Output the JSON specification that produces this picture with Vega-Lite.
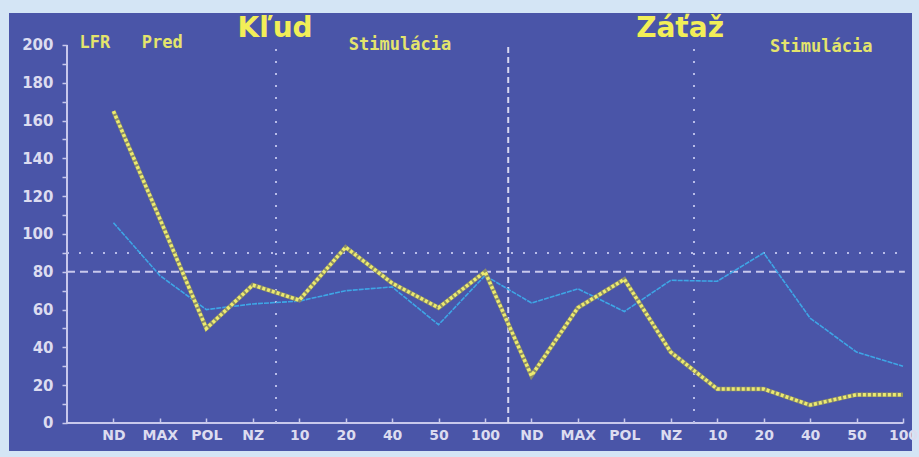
{
  "$schema": "https://vega.github.io/schema/vega-lite/v6.json",
  "width": 903,
  "height": 438,
  "autosize": {"type": "none"},
  "padding": {"left": 9, "top": 13, "right": 7, "bottom": 6},
  "background": "#d4e5f5",
  "config": {
    "view": {"fill": "#4a55a8", "stroke": null},
    "axis": {
      "labelFont": "DejaVu Sans",
      "labelFontWeight": "bold",
      "labelFontSize": 14,
      "labelColor": "#dcdcf0",
      "tickColor": "#c8c8ec",
      "tickWidth": 1.5,
      "domain": false,
      "grid": false,
      "title": null,
      "labelFlush": false,
      "labelBound": false
    }
  },
  "datasets": {
    "series": [
      {"x": 1, "y": 106, "s": "b"}, {"x": 2, "y": 78, "s": "b"}, {"x": 3, "y": 60, "s": "b"},
      {"x": 4, "y": 63, "s": "b"}, {"x": 5, "y": 64.5, "s": "b"}, {"x": 6, "y": 70, "s": "b"},
      {"x": 7, "y": 72, "s": "b"}, {"x": 8, "y": 52, "s": "b"}, {"x": 9, "y": 78, "s": "b"},
      {"x": 10, "y": 63.5, "s": "b"}, {"x": 11, "y": 71, "s": "b"}, {"x": 12, "y": 59, "s": "b"},
      {"x": 13, "y": 75.5, "s": "b"}, {"x": 14, "y": 75, "s": "b"}, {"x": 15, "y": 90, "s": "b"},
      {"x": 16, "y": 55.5, "s": "b"}, {"x": 17, "y": 37.5, "s": "b"}, {"x": 18, "y": 30, "s": "b"},
      {"x": 1, "y": 165, "s": "y"}, {"x": 2, "y": 108, "s": "y"}, {"x": 3, "y": 50, "s": "y"},
      {"x": 4, "y": 73, "s": "y"}, {"x": 5, "y": 65, "s": "y"}, {"x": 6, "y": 93, "s": "y"},
      {"x": 7, "y": 74, "s": "y"}, {"x": 8, "y": 61, "s": "y"}, {"x": 9, "y": 80, "s": "y"},
      {"x": 10, "y": 25, "s": "y"}, {"x": 11, "y": 61, "s": "y"}, {"x": 12, "y": 76, "s": "y"},
      {"x": 13, "y": 37.5, "s": "y"}, {"x": 14, "y": 18, "s": "y"}, {"x": 15, "y": 18, "s": "y"},
      {"x": 16, "y": 9.5, "s": "y"}, {"x": 17, "y": 15, "s": "y"}, {"x": 18, "y": 15, "s": "y"}
    ]
  },
  "encoding": {
    "x": {
      "field": "x",
      "type": "quantitative",
      "scale": {"domain": [-1.2488, 18.1938], "nice": false, "zero": false},
      "axis": {
        "values": [1, 2, 3, 4, 5, 6, 7, 8, 9, 10, 11, 12, 13, 14, 15, 16, 17, 18],
        "labelExpr": "['','ND','MAX','POL','NZ','10','20','40','50','100','ND','MAX','POL','NZ','10','20','40','50','100'][datum.value]",
        "offset": -28,
        "tickSize": -5,
        "labelPadding": 10,
        "labelOverlap": false
      }
    },
    "y": {
      "field": "y",
      "type": "quantitative",
      "scale": {"domain": [-14.815, 216.93], "nice": false, "zero": false},
      "axis": {
        "values": [0, 10, 20, 30, 40, 50, 60, 70, 80, 90, 100, 110, 120, 130, 140, 150, 160, 170, 180, 190, 200],
        "labelExpr": "datum.value % 20 == 0 ? datum.label : ''",
        "labelFontSize": 15,
        "offset": -58,
        "tickSize": 5,
        "labelPadding": 9
      }
    }
  },
  "layer": [
    {
      "data": {"values": [{"x": 0, "y": 0, "y2": 200}]},
      "mark": {"type": "rule", "color": "#c8c8ec", "strokeWidth": 2},
      "encoding": {"y2": {"field": "y2"}}
    },
    {
      "data": {"values": [{"x": 0, "x2": 18, "y": 0}]},
      "mark": {"type": "rule", "color": "#c8c8ec", "strokeWidth": 2},
      "encoding": {"x2": {"field": "x2"}}
    },
    {
      "data": {"values": [{"x": 4.5, "y": 0, "y2": 200}, {"x": 13.5, "y": 0, "y2": 199}]},
      "mark": {"type": "rule", "color": "#b8bce8", "strokeWidth": 2, "strokeDash": [2, 10]},
      "encoding": {"y2": {"field": "y2"}}
    },
    {
      "data": {"values": [{"x": 9.5, "y": 0, "y2": 200}]},
      "mark": {"type": "rule", "color": "#d8d8f0", "strokeWidth": 2, "strokeDash": [6, 4]},
      "encoding": {"y2": {"field": "y2"}}
    },
    {
      "data": {"values": [{"x": 0, "x2": 18.04, "y": 80}]},
      "mark": {"type": "rule", "color": "#c8c8ec", "strokeWidth": 2, "strokeDash": [8, 5]},
      "encoding": {"x2": {"field": "x2"}}
    },
    {
      "data": {"values": [{"x": 0, "x2": 17.9, "y": 90}]},
      "mark": {"type": "rule", "color": "#b8bce8", "strokeWidth": 2, "strokeDash": [2, 10]},
      "encoding": {"x2": {"field": "x2"}}
    },
    {
      "data": {"name": "series"},
      "transform": [{"filter": "datum.s == 'b'"}],
      "mark": {"type": "line", "color": "#3ea6e6", "strokeWidth": 1.6, "strokeDash": [5, 1]},
      "encoding": {}
    },
    {
      "data": {"name": "series"},
      "transform": [{"filter": "datum.s == 'y'"}],
      "mark": {"type": "line", "color": "#8c8e68", "strokeWidth": 4.5},
      "encoding": {}
    },
    {
      "data": {"name": "series"},
      "transform": [{"filter": "datum.s == 'y'"}],
      "mark": {"type": "line", "color": "#ecea70", "strokeWidth": 3.5, "strokeDash": [3, 2]},
      "encoding": {}
    },
    {
      "data": {"values": [
        {"x": 0.6, "y": 200.8, "t": "LFR"},
        {"x": 2.05, "y": 200.8, "t": "Pred"},
        {"x": 7.17, "y": 200, "t": "Stimulácia"},
        {"x": 16.24, "y": 199, "t": "Stimulácia"}
      ]},
      "mark": {"type": "text", "color": "#e4e46c", "font": "DejaVu Sans Mono", "fontWeight": "bold", "fontSize": 17, "baseline": "middle", "align": "center"},
      "encoding": {"text": {"field": "t"}}
    },
    {
      "data": {"values": [
        {"x": 4.48, "y": 204.2, "t": "Kľud"},
        {"x": 13.2, "y": 204.2, "t": "Záťaž"}
      ]},
      "mark": {"type": "text", "color": "#f2ee58", "font": "DejaVu Sans", "fontWeight": "bold", "fontSize": 28, "baseline": "alphabetic", "align": "center"},
      "encoding": {"text": {"field": "t"}}
    }
  ]
}
